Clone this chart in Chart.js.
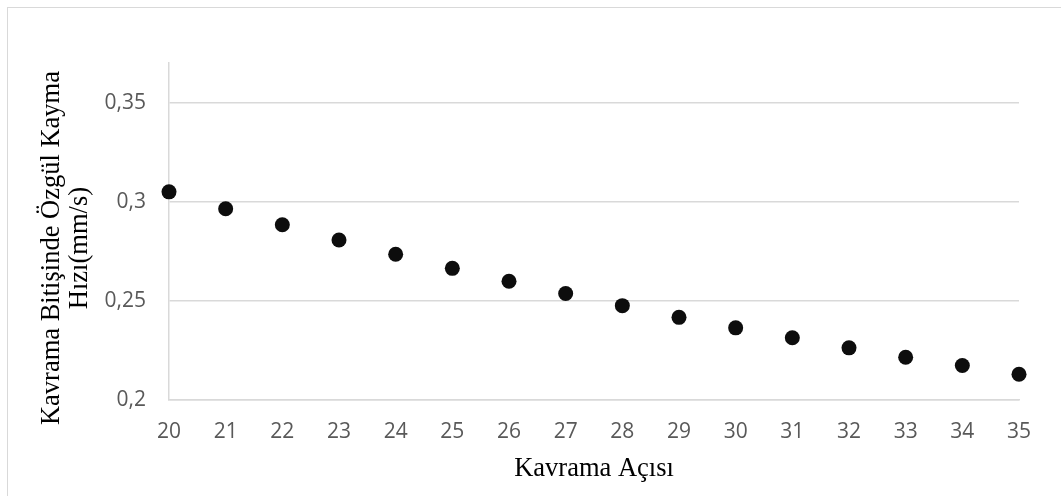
<!DOCTYPE html>
<html>
<head>
<meta charset="utf-8">
<script src="https://cdn.jsdelivr.net/npm/chart.js@4/dist/chart.umd.min.js"></script>
<style>
  html, body { margin: 0; padding: 0; background: #fff; }
  #wrap { position: relative; width: 1061px; height: 496px; }
  #frame { position: absolute; left: 7px; top: 7px; right: 0; bottom: 0;
           border-top: 1.5px solid #d9d9d9; border-left: 1.5px solid #d9d9d9; pointer-events: none; }
  canvas { position: absolute; left: 0; top: 0; }
</style>
</head>
<body>
<div id="wrap">
  <canvas id="myChart" width="1061" height="496"></canvas>
  <div id="frame"></div>
</div>
<script>
// Kavrama açısı (x) ve özgül kayma hızı (y)
const angles = [20, 21, 22, 23, 24, 25, 26, 27, 28, 29, 30, 31, 32, 33, 34, 35];
const slipSpeed = [0.305, 0.2965, 0.2884, 0.2807, 0.2735, 0.2664, 0.2599, 0.2537,
                   0.2476, 0.2417, 0.2364, 0.2314, 0.2263, 0.2216, 0.2174, 0.2130];
const yTicks = [0.2, 0.25, 0.3, 0.35];
const xTitle = 'Kavrama Açısı';
const yTitle = ['Kavrama Bitişinde Özgül Kayma     ', 'Hızı(mm/s)     '];

const gridGray = '#d9d9d9';
const tickFont = { family: "'Open Sans', sans-serif", size: 21 };
const titleFont = { family: "'Liberation Serif', 'Times New Roman', serif", size: 26.5, lineHeight: 1.07 };

const ctx = document.getElementById('myChart').getContext('2d');
new Chart(ctx, {
  type: 'scatter',
  data: {
    datasets: [{
      data: angles.map((a, i) => ({ x: a, y: slipSpeed[i] })),
      backgroundColor: '#0d0d0d',
      borderWidth: 0,
      pointRadius: 7.5,
      pointHoverRadius: 7.5,
      clip: false
    }]
  },
  options: {
    responsive: false,
    animation: false,
    devicePixelRatio: 1,
    layout: { padding: { left: 0, top: 63, right: 42, bottom: 0 } },
    plugins: { legend: { display: false }, tooltip: { enabled: false } },
    scales: {
      x: {
        type: 'linear',
        min: angles[0],
        max: angles[angles.length - 1],
        afterFit: (scale) => { scale.height = 96; },
        grid: { display: false },
        border: { display: true, color: gridGray, width: 1.5 },
        ticks: { stepSize: 1, color: '#595959', font: tickFont, padding: 11, maxRotation: 0, autoSkip: false },
        title: { display: true, text: xTitle, color: '#000', font: titleFont, padding: { top: 0, bottom: 13 } }
      },
      y: {
        min: 0.2,
        max: 0.37,
        afterBuildTicks: (scale) => { scale.ticks = yTicks.map(v => ({ value: v })); },
        afterFit: (scale) => { scale.width = 169; },
        grid: { color: gridGray, lineWidth: 1.5, drawTicks: false },
        border: { display: true, color: gridGray, width: 1.5 },
        ticks: {
          color: '#595959', font: tickFont, padding: 23,
          callback: (v) => String(v).replace('.', ',')
        },
        title: { display: true, text: yTitle, color: '#000', font: titleFont, padding: { top: 38, bottom: 0 } }
      }
    }
  }
});
</script>
</body>
</html>
